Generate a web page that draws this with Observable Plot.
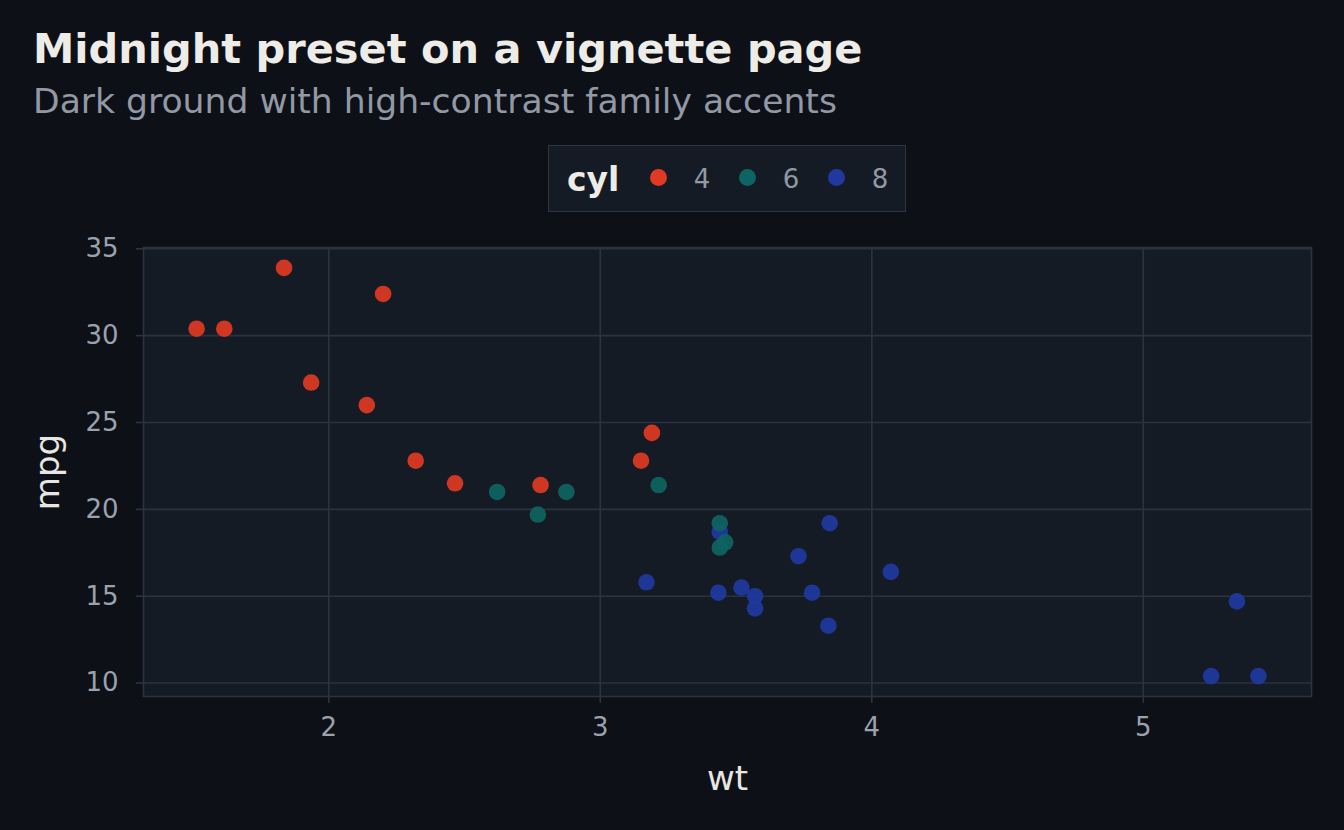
<!DOCTYPE html>
<html>
<head>
<meta charset="utf-8">
<script src="https://cdn.jsdelivr.net/npm/d3@7"></script>
<script src="https://cdn.jsdelivr.net/npm/@observablehq/plot@0.6"></script>
<style>
  html, body { margin: 0; padding: 0; background: #0d1017; width: 1344px; height: 830px; overflow: hidden; font-family: "DejaVu Sans", sans-serif; }
  #wrap { position: relative; width: 1344px; height: 830px; }
  #title { position: absolute; left: 33px; top: 25px; font-size: 41.5px; line-height: 1.164; font-weight: bold; color: #eeece6; white-space: nowrap; }
  #subtitle { position: absolute; left: 33px; top: 81px; font-size: 34.6px; line-height: 1.164; color: #9298a4; white-space: nowrap; }
  #legend { position: absolute; left: 548px; top: 145px; width: 358px; height: 67px; box-sizing: border-box; background: #151b24; border: 1px solid #2e3443; }
  #legend .ttl { position: absolute; left: 18px; top: 50%; transform: translateY(-50%); font-weight: bold; font-size: 33px; line-height: 1; color: #eeece6; }
  #legend .sw { position: absolute; top: 50%; width: 17px; height: 17px; margin-left: -8.5px; margin-top: -10px; border-radius: 50%; }
  #legend .lab { position: absolute; top: 50%; transform: translate(-50%, -50%); font-size: 26px; line-height: 1; color: #9298a4; }
  #chart { position: absolute; left: 0; top: 230px; }
</style>
</head>
<body>
<div id="wrap">
  <div id="title">Midnight preset on a vignette page</div>
  <div id="subtitle">Dark ground with high-contrast family accents</div>
  <div id="legend"></div>
  <div id="chart"></div>
</div>
<script>
const wt  = [2.620,2.875,2.320,3.215,3.440,3.460,3.570,3.190,3.150,3.440,3.440,4.070,3.730,3.780,5.250,5.424,5.345,2.200,1.615,1.835,2.465,3.520,3.435,3.840,3.845,1.935,2.140,1.513,3.170,2.770,3.570,2.780];
const mpg = [21.0,21.0,22.8,21.4,18.7,18.1,14.3,24.4,22.8,19.2,17.8,16.4,17.3,15.2,10.4,10.4,14.7,32.4,30.4,33.9,21.5,15.5,15.2,13.3,19.2,27.3,26.0,30.4,15.8,19.7,15.0,21.4];
const cyl = [6,6,4,6,8,6,8,4,4,6,6,8,8,8,8,8,8,4,4,4,4,8,8,8,8,4,4,4,8,6,8,4];
const cylLevels = ["4","6","8"];
const cylColors = ["#e03a24","#0e6462","#2038a0"];
const xTicks = [2,3,4,5];
const yTicks = [10,15,20,25,30,35];

const data = wt.map((w,i) => ({wt: w, mpg: mpg[i], cyl: String(cyl[i])}));

const grid = "#2c3240";
const tickText = "#9ba1ad";
const light = "#e8e6e0";

const plot = Plot.plot({
  width: 1344,
  height: 600,
  marginTop: 17,
  marginBottom: 134,
  marginLeft: 143,
  marginRight: 33,
  style: { background: "transparent", fontFamily: "DejaVu Sans, sans-serif", fontSize: "26px" },
  x: { domain: [1.3174, 5.6196] },
  y: { domain: [9.225, 35.075] },
  color: { domain: cylLevels, range: cylColors },
  marks: [
    Plot.frame({ fill: "#151b24", stroke: null }),
    Plot.gridX(xTicks, { stroke: grid, strokeOpacity: 1, strokeWidth: 1.6 }),
    Plot.gridY(yTicks, { stroke: grid, strokeOpacity: 1, strokeWidth: 1.6 }),
    Plot.frame({ stroke: grid, strokeWidth: 1.6 }),
    Plot.axisX(xTicks, { tickSize: 7, tickPadding: 14, stroke: grid, strokeWidth: 1.6, fill: tickText, fontSize: 26, tickFormat: d => String(d), label: null }),
    Plot.axisY(yTicks, { tickSize: 7, tickPadding: 18, stroke: grid, strokeWidth: 1.6, fill: tickText, fontSize: 26, tickFormat: d => String(d), label: null }),
    Plot.dot(data, { x: "wt", y: "mpg", fill: "cyl", r: 8.3, stroke: null, fillOpacity: 0.92 }),
    Plot.text(["wt"], { frameAnchor: "bottom", dy: 93, fill: light, fontSize: 34 }),
    Plot.text(["mpg"], { frameAnchor: "left", textAnchor: "middle", dx: -95, rotate: -90, fill: light, fontSize: 34 })
  ]
});
document.getElementById("chart").appendChild(plot);

const legend = document.getElementById("legend");
const t = document.createElement("span"); t.className = "ttl"; t.textContent = "cyl"; legend.appendChild(t);
const dotX = [109, 198, 287];
cylLevels.forEach((c, i) => {
  const sw = document.createElement("span"); sw.className = "sw"; sw.style.background = cylColors[i]; sw.style.left = dotX[i] + "px"; legend.appendChild(sw);
  const lb = document.createElement("span"); lb.className = "lab"; lb.textContent = c; lb.style.left = (dotX[i] + 44) + "px"; legend.appendChild(lb);
});
</script>
</body>
</html>
